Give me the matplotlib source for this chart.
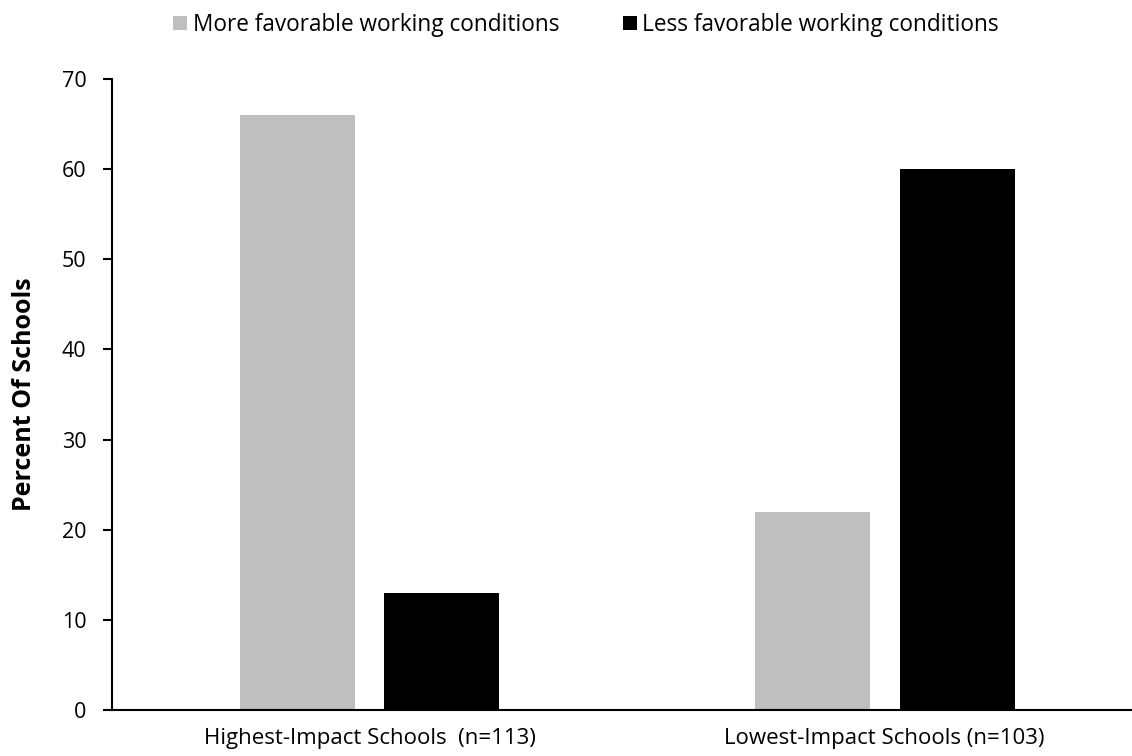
import numpy as np
import matplotlib.pyplot as plt

plt.rcParams['font.family'] = ['Open Sans', 'DejaVu Sans']

categories = ['Highest-Impact Schools  (n=113)', 'Lowest-Impact Schools (n=103)']
more_favorable = [66, 22]
less_favorable = [13, 60]
series_names = ['More favorable working conditions', 'Less favorable working conditions']

fig = plt.figure(figsize=(11.32, 7.56), dpi=100)
ax = fig.add_axes([0.0989, 0.0608, 0.9011, 0.8347])

x = np.arange(len(categories))
w = 0.223
ax.bar(x - 0.1405, more_favorable, w, color='#bfbfbf', label=series_names[0])
ax.bar(x + 0.1405, less_favorable, w, color='black', label=series_names[1])

ax.set_xlim(-0.5, 1.48)
ax.set_ylim(0, 70)
ax.set_yticks(range(0, 71, 10))
ax.set_xticks(x)
ax.set_xticklabels(categories, fontsize=16)
ax.tick_params(axis='x', length=0, pad=13)
ax.tick_params(axis='y', length=6.5, width=1.5, pad=12, labelsize=15.5)

for s in ['top', 'right']:
    ax.spines[s].set_visible(False)
for s in ['left', 'bottom']:
    ax.spines[s].set_linewidth(1.5)

ax.set_ylabel('Percent Of Schools', fontsize=18, fontweight='bold')
ax.yaxis.set_label_coords(-0.073, 0.5)

fig.legend(loc='center', bbox_to_anchor=(586 / 1132, 1 - 25 / 756), ncol=2, frameon=False,
           fontsize=16.3, handlelength=0.62, handleheight=0.62, handletextpad=0.25,
           columnspacing=2.8)

plt.savefig('out.png')
